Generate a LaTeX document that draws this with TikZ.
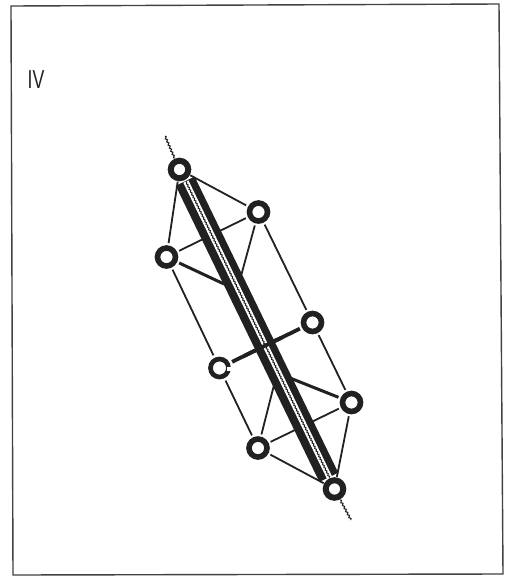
\documentclass[tikz,border=0pt]{standalone}
\usepackage{fontspec}
\setmainfont{Liberation Sans}
\usetikzlibrary{calc,decorations.pathmorphing}
\definecolor{ink}{gray}{0.13}
\tikzset{
  ring/.style={circle,draw=ink,fill=white,line width=5.6pt,minimum size=18pt,inner sep=0pt,outer sep=5pt},
  bigring/.style={ring,line width=6pt,minimum size=17.5pt,outer sep=3.5pt},
  thinline/.style={draw=ink,line width=1.8pt},
  thickline/.style={draw=ink,line width=3pt},
  barline/.style={draw=ink,line width=21pt},
  stripe/.style={draw=white,line width=5.6pt},
  wavy/.style={draw=ink,line width=1.1pt,decorate,decoration={snake,amplitude=0.8pt,segment length=3.4pt}},
  frameline/.style={draw=ink!85,line width=1.4pt},
  numeral/.style={font=\fontsize{26}{26}\selectfont,text=ink,xscale=0.68,inner sep=0pt}
}
\begin{document}
\begin{tikzpicture}[x=1pt,y=-1pt]
\useasboundingbox (0,0) rectangle (507,576);
\fill[white] (0,0) rectangle (507,576);
\draw[frameline] (11,6) -- (499,4) -- (503,574) -- (13,575) -- cycle;
\node[numeral] (num) at (36,80) {IV};

% ring positions
\coordinate (pT) at (179.5,169.5);
\coordinate (pG) at (334.5,489);
\node[bigring] (T) at (pT) {};
\node[bigring] (G) at (pG) {};
\node[ring] (A) at (258.5,212) {};
\node[ring] (B) at (166.5,257) {};
\node[ring] (C) at (312.5,322.5) {};
\node[ring,line width=4.7pt] (D) at (219.5,368) {};
\node[ring] (E) at (351.5,402.5) {};
\node[ring] (F) at (258,448) {};

% free ends and joints on the bar
\coordinate (jB) at (224,284);
\coordinate (jA) at (241,276);
\coordinate (jE) at (290,378);
\coordinate (jF) at (274,385);
\coordinate (wT) at (165,136);
\coordinate (wG) at (351,520);
\coordinate (bT) at ($(pT)!13pt!(pG)$);
\coordinate (bG) at ($(pG)!13pt!(pT)$);
\coordinate (sT) at ($(bT)+(0.7,0.35)$);
\coordinate (sG) at ($(bG)+(0.7,0.35)$);

% thin connectors, behind the bar
\draw[thinline] (T) -- (A);
\draw[thinline] (T) -- (B);
\draw[thinline] (B) -- (A);
\draw[thinline] (F) -- (E);
\draw[thinline] (F) -- (G);
\draw[thinline] (E) -- (G);
\draw[thinline] (A) -- (C);
\draw[thinline] (B) -- (D);
\draw[thinline] (C) -- (E);
\draw[thinline] (D) -- (F);
\draw[thinline] (A) -- (jA);
\draw[thinline] (F) -- (jF);
\draw[thickline] (B) -- (jB);
\draw[thickline] (E) -- (jE);
\draw[thickline,line width=3.8pt] (D) -- (C);

% main bar
\draw[barline] (bT) -- (bG);
\draw[stripe] (sT) -- (sG);
\draw[wavy,line width=1pt,decoration={amplitude=0.6pt,segment length=3pt}] (sT) -- (sG);
\draw[thickline,line width=3.8pt] ($(D)!0.27!(C)$) -- ($(D)!0.67!(C)$);

% break in the ring at D
\fill[white] ($(D.center)+(7,-1)$) rectangle ($(D.center)+(13,2.5)$);

% end squiggles
\draw[wavy] (wT) -- (T);
\draw[wavy] (G) -- (wG);
\end{tikzpicture}
\end{document}
